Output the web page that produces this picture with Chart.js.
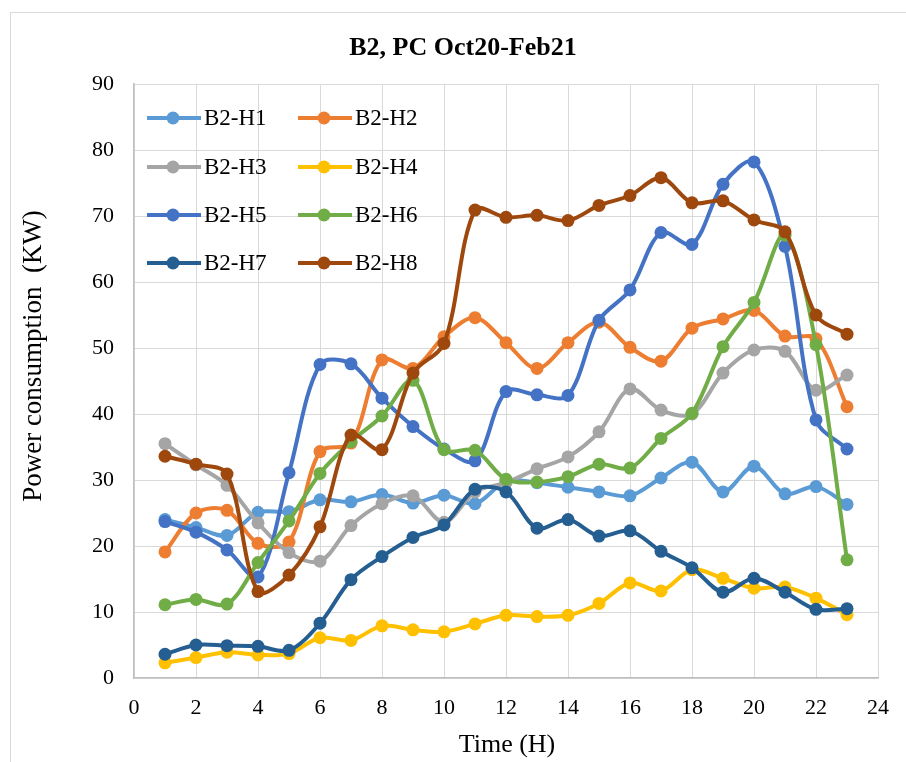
<!DOCTYPE html>
<html>
<head>
<meta charset="utf-8">
<script src="https://cdn.jsdelivr.net/npm/chart.js@4.4.1/dist/chart.umd.min.js"></script>
<style>
  html, body { margin: 0; padding: 0; background: #fff; }
  #wrap { width: 906px; height: 762px; position: relative; }
</style>
</head>
<body>
<div id="wrap"><canvas id="pcChart" width="906" height="762"></canvas></div>
<script>
// hours of the day
const hours = [1, 2, 3, 4, 5, 6, 7, 8, 9, 10, 11, 12, 13, 14, 15, 16, 17, 18, 19, 20, 21, 22, 23];

// average power per house (KW)
const h1 = [24.0, 22.8, 21.6, 25.1, 25.2, 27.0, 26.7, 27.8, 26.5, 27.7, 26.4, 29.8, 29.6, 28.9, 28.2, 27.6, 30.3, 32.7, 28.2, 32.1, 27.9, 29.0, 26.3];
const h2 = [19.1, 25.0, 25.4, 20.4, 20.6, 34.3, 35.6, 48.2, 46.9, 51.7, 54.6, 50.8, 46.9, 50.8, 53.9, 50.1, 48.0, 53.0, 54.4, 55.7, 51.8, 51.4, 41.1];
const h3 = [35.5, 32.3, 29.2, 23.5, 19.0, 17.7, 23.1, 26.4, 27.6, 23.6, 28.2, 29.6, 31.7, 33.5, 37.3, 43.8, 40.6, 40.0, 46.2, 49.7, 49.5, 43.6, 45.9];
const h4 = [2.3, 3.1, 3.9, 3.5, 3.7, 6.1, 5.7, 7.9, 7.3, 7.0, 8.2, 9.5, 9.3, 9.5, 11.3, 14.4, 13.2, 16.4, 15.1, 13.6, 13.8, 12.1, 9.6];
const h5 = [23.7, 22.1, 19.4, 15.3, 31.1, 47.5, 47.6, 42.4, 38.1, 34.7, 32.9, 43.4, 42.9, 42.8, 54.2, 58.8, 67.5, 65.7, 74.8, 78.2, 65.4, 39.1, 34.7];
const h6 = [11.1, 11.9, 11.2, 17.5, 23.8, 31.0, 35.8, 39.7, 45.1, 34.6, 34.5, 30.1, 29.7, 30.5, 32.4, 31.8, 36.3, 40.1, 50.2, 56.9, 67.1, 50.5, 17.9];
const h7 = [3.6, 5.0, 4.9, 4.8, 4.2, 8.3, 14.9, 18.4, 21.3, 23.2, 28.6, 28.2, 22.7, 24.0, 21.5, 22.3, 19.2, 16.7, 13.0, 15.1, 13.0, 10.4, 10.5];
const h8 = [33.6, 32.4, 30.9, 13.1, 15.6, 22.9, 36.8, 34.6, 46.2, 50.7, 70.9, 69.8, 70.1, 69.3, 71.6, 73.1, 75.8, 72.0, 72.3, 69.4, 67.6, 55.0, 52.1];

const seriesNames = ['B2-H1', 'B2-H2', 'B2-H3', 'B2-H4', 'B2-H5', 'B2-H6', 'B2-H7', 'B2-H8'];
const seriesValues = [h1, h2, h3, h4, h5, h6, h7, h8];
const seriesColors = ['#5B9BD5', '#ED7D31', '#A5A5A5', '#FFC000', '#4472C4', '#70AD47', '#255E91', '#9E480E'];

const chartTitle = 'B2, PC Oct20-Feb21';
const xTitle = 'Time (H)';
const yTitle = 'Power consumption  (KW)';

const serif = "'Liberation Serif', 'Times New Roman', serif";

const datasets = seriesValues.map((vals, i) => ({
    label: seriesNames[i],
    data: vals.map((v, j) => ({ x: hours[j], y: v })),
    borderColor: seriesColors[i],
    backgroundColor: seriesColors[i],
    borderWidth: 4,
    pointRadius: 6.5,
    pointBorderWidth: 0,
    pointHoverRadius: 6.5,
    tension: 0.33,
    order: seriesValues.length - i   // later series drawn on top
}));

// frame, titles and the in-plot legend
const decorations = {
    id: 'decorations',
    beforeDraw(chart) {
        const ctx = chart.ctx;
        ctx.save();
        ctx.fillStyle = '#fff';
        ctx.fillRect(0, 0, chart.width, chart.height);
        ctx.strokeStyle = '#D9D9D9';
        ctx.lineWidth = 1;
        ctx.strokeRect(10.5, 12.5, 920, 780);
        ctx.restore();
    },
    afterDraw(chart) {
        const ctx = chart.ctx;
        ctx.save();
        ctx.fillStyle = '#000';

        ctx.font = 'bold 26px ' + serif;
        ctx.textAlign = 'center';
        ctx.textBaseline = 'alphabetic';
        ctx.fillText(chartTitle, 463, 55);

        ctx.font = '26px ' + serif;
        ctx.fillText(xTitle, 507, 752);

        ctx.save();
        ctx.translate(41, 356);
        ctx.rotate(-Math.PI / 2);
        ctx.font = '27px ' + serif;
        ctx.fillText(yTitle, 0, 0);
        ctx.restore();

        // legend: two columns, four rows
        const rows = [118, 167, 215, 263];
        const cols = [147, 298];
        ctx.font = '23px ' + serif;
        ctx.textAlign = 'left';
        ctx.textBaseline = 'middle';
        chart.data.datasets.forEach((ds, i) => {
            const x = cols[i % 2];
            const y = rows[Math.floor(i / 2)];
            ctx.strokeStyle = ds.borderColor;
            ctx.lineWidth = 4;
            ctx.beginPath();
            ctx.moveTo(x, y);
            ctx.lineTo(x + 54, y);
            ctx.stroke();
            ctx.fillStyle = ds.backgroundColor;
            ctx.beginPath();
            ctx.arc(x + 26, y, 6.5, 0, Math.PI * 2);
            ctx.fill();
            ctx.fillStyle = '#000';
            ctx.fillText(ds.label, x + 57, y + 1);
        });
        ctx.restore();
    }
};

new Chart(document.getElementById('pcChart'), {
    type: 'line',
    data: { datasets: datasets },
    plugins: [decorations],
    options: {
        responsive: false,
        animation: false,
        events: [],
        layout: { padding: { top: 84, right: 28, left: 0, bottom: 0 } },
        plugins: {
            legend: { display: false },
            title: { display: false },
            tooltip: { enabled: false }
        },
        scales: {
            x: {
                type: 'linear',
                min: 0,
                max: 24,
                afterFit(scale) { scale.height = 84; },
                ticks: {
                    stepSize: 2,
                    padding: 17,
                    color: '#000',
                    font: { family: serif, size: 22 }
                },
                grid: { color: '#D9D9D9', lineWidth: 1, drawTicks: false },
                border: { color: '#BFBFBF', width: 1.5 }
            },
            y: {
                min: 0,
                max: 90,
                afterFit(scale) { scale.width = 134; },
                ticks: {
                    stepSize: 10,
                    padding: 20,
                    color: '#000',
                    font: { family: serif, size: 22 }
                },
                grid: { color: '#D9D9D9', lineWidth: 1, drawTicks: false },
                border: { color: '#BFBFBF', width: 1.5 }
            }
        }
    }
});
</script>
</body>
</html>
